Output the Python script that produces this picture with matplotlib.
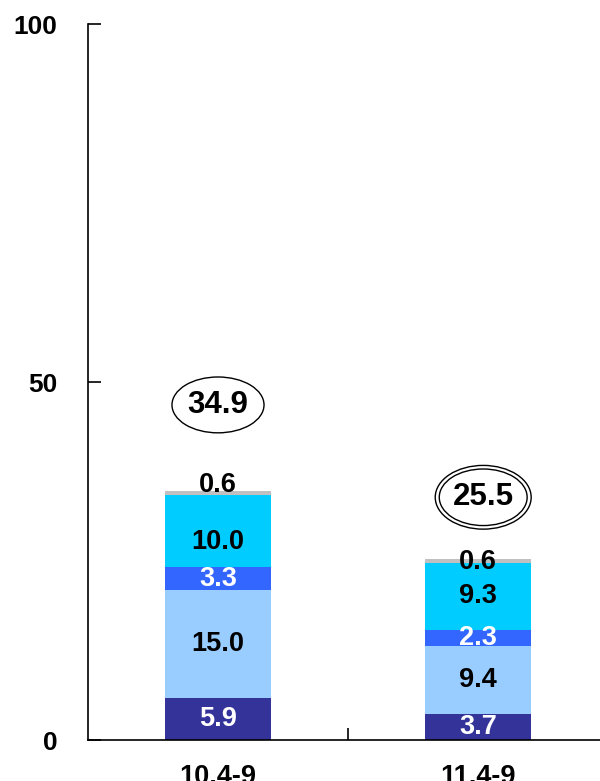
import matplotlib
matplotlib.use("Agg")
import matplotlib.pyplot as plt
from matplotlib.patches import Ellipse

plt.rcParams['font.family'] = ['Liberation Sans', 'DejaVu Sans']
plt.rcParams['font.weight'] = 'bold'

# Data
periods = ["10.4-9", "11.4-9"]
totals = [34.9, 25.5]
seg_navy = [5.9, 3.7]
seg_light = [15.0, 9.4]
seg_blue = [3.3, 2.3]
seg_cyan = [10.0, 9.3]
seg_gray = [0.6, 0.6]

segments = [seg_navy, seg_light, seg_blue, seg_cyan, seg_gray]
colors = ["#333399", "#99CCFF", "#3366FF", "#00CCFF", "#C0C0C0"]
text_colors = ["white", "black", "white", "black", "black"]

fig = plt.figure(figsize=(6, 7.81), dpi=100)
ax = fig.add_axes([88 / 600, 41 / 781, 520 / 600, 716 / 781])

x = [0, 1]
width = 0.41
bottoms = [0.0, 0.0]
# small label nudges (data units) to mimic original placement
nudge = {(3, 0): -1.6, (4, 0): 1.1, (4, 1): -0.2}
for k, (vals, col, tc) in enumerate(zip(segments, colors, text_colors)):
    ax.bar(x, vals, width, bottom=bottoms, color=col, edgecolor='none')
    for i in range(2):
        y = bottoms[i] + vals[i] / 2 + nudge.get((k, i), 0)
        ax.text(x[i], y, f"{vals[i]:.1f}", ha='center', va='center',
                fontsize=19.5, fontweight='bold', color=tc)
    bottoms = [b + v for b, v in zip(bottoms, vals)]

# totals in ellipses
ell_y = [46.8, 33.9]
ell_x = [0.0, 1.02]
ax.add_patch(Ellipse((ell_x[0], ell_y[0]), 0.354, 7.8, fill=False, lw=1.0, ec='black'))
ax.add_patch(Ellipse((ell_x[1], ell_y[1]), 0.369, 8.9, fill=False, lw=1.0, ec='black'))
ax.add_patch(Ellipse((ell_x[1], ell_y[1]), 0.338, 7.9, fill=False, lw=1.0, ec='black'))
for i in range(2):
    ax.text(ell_x[i], ell_y[i], f"{totals[i]:.1f}", ha='center', va='center',
            fontsize=22.5, fontweight='bold')

ax.set_xlim(-0.5, 1.5)
ax.set_ylim(0, 100)
ax.set_yticks([0, 50, 100])
ax.set_yticklabels(["0", "50", "100"], fontsize=19, fontweight='bold')
ax.set_xticks(x)
ax.set_xticklabels(periods, fontsize=19.5, fontweight='bold')
ax.set_xticks([0.5], minor=True)

ax.tick_params(axis='y', direction='in', length=9, width=1.2, pad=22)
ax.tick_params(axis='x', which='major', length=0, pad=17)
ax.tick_params(axis='x', which='minor', direction='in', length=9, width=1.2)

for s in ['top', 'right']:
    ax.spines[s].set_visible(False)
for s in ['left', 'bottom']:
    ax.spines[s].set_linewidth(1.2)

fig.savefig("out.png", dpi=100)
